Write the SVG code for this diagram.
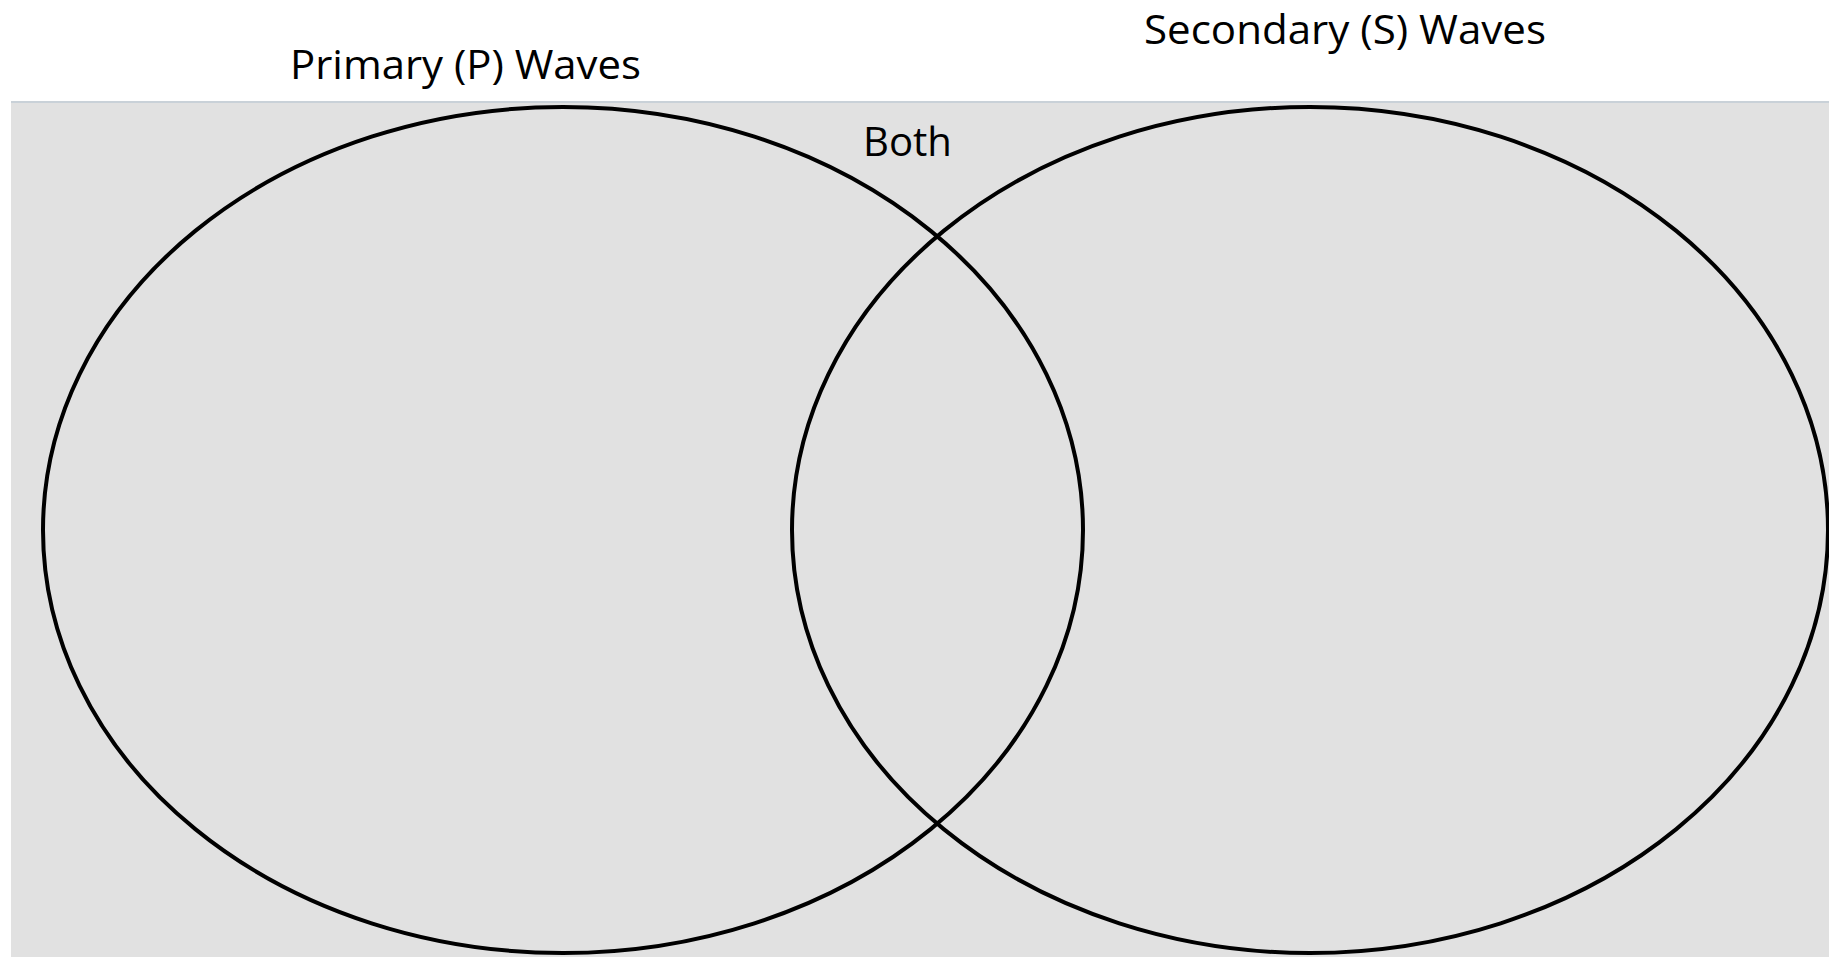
<svg xmlns="http://www.w3.org/2000/svg" width="1829" height="957" viewBox="0 0 1829 957">
  <style>
    .label { font-family: "Open Sans", "Liberation Sans", sans-serif; font-size: 41px; fill: #000000; }
    .set { fill: none; stroke: #000000; stroke-width: 4; }
  </style>
  <rect x="0" y="0" width="1829" height="957" fill="#ffffff"/>
  <g id="panel">
    <rect x="11" y="102" width="1818" height="855" fill="#e1e1e1"/>
    <line x1="11" y1="102" x2="1829" y2="102" stroke="#c9d1d8" stroke-width="2"/>
  </g>
  <g id="connectors"></g>
  <g id="primary">
    <ellipse class="set" cx="563" cy="530" rx="520" ry="423"/>
    <text class="label" x="290" y="79" textLength="351" lengthAdjust="spacingAndGlyphs">Primary (P) Waves</text>
  </g>
  <g id="secondary">
    <ellipse class="set" cx="1310" cy="530" rx="518" ry="423"/>
    <text class="label" x="1144" y="44" textLength="402" lengthAdjust="spacingAndGlyphs">Secondary (S) Waves</text>
  </g>
  <g id="both">
    <text class="label" x="863" y="156" textLength="89" lengthAdjust="spacingAndGlyphs">Both</text>
  </g>
</svg>
